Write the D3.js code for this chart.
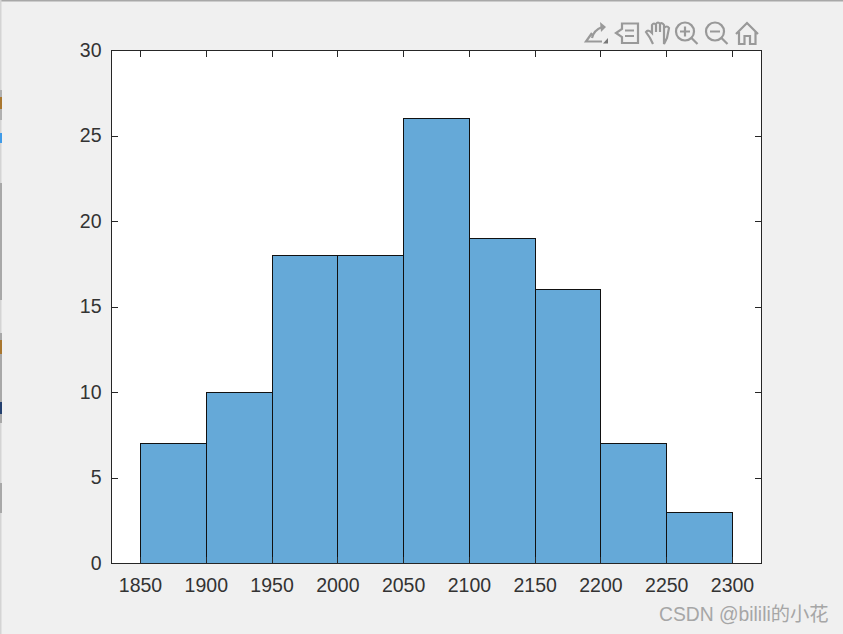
<!DOCTYPE html>
<html>
<head>
<meta charset="utf-8">
<script src="https://cdn.jsdelivr.net/npm/d3@7"></script>
<style>
html, body { margin: 0; padding: 0; background: #f0f0f0; overflow: hidden; }
svg { display: block; }
text { font-family: "Liberation Sans", Arial, sans-serif; }
</style>
</head>
<body>
<svg id="chart" width="843" height="634"></svg>
<script>
// Dades
const binEdges = [1850, 1900, 1950, 2000, 2050, 2100, 2150, 2200, 2250, 2300];
const counts = [7, 10, 18, 18, 26, 19, 16, 7, 3];
const xTicks = [1850, 1900, 1950, 2000, 2050, 2100, 2150, 2200, 2250, 2300];
const yTicks = [0, 5, 10, 15, 20, 25, 30];
const watermark = "CSDN @bilili的小花";

const svg = d3.select("#chart");
const plotLeft = 111.5, plotRight = 761.5, plotTop = 50.5, plotBottom = 563.5;

// Escales
const x = d3.scaleLinear().domain([1850, 2300]).range([140.5, 732.5]);
const y = d3.scaleLinear().domain([0, 30]).range([plotBottom, plotTop]);

// Vora de la finestra
svg.append("rect").attr("width", 843).attr("height", 1.5).attr("fill", "#a8a8a8");
svg.append("rect").attr("width", 1.5).attr("height", 634).attr("fill", "#d4d4d4");
[[90, 120, "#b0b0b0"], [183, 300, "#a8a8a8"], [333, 423, "#a8a8a8"], [483, 513, "#a8a8a8"]].forEach(s => {
    svg.append("rect").attr("x", 0).attr("y", s[0]).attr("width", 2).attr("height", s[1] - s[0]).attr("fill", s[2]);
});
[[97, 12, "#a9772f"], [133, 10, "#3f9be8"], [340, 14, "#a9772f"], [402, 12, "#23406f"]].forEach(s => {
    svg.append("rect").attr("x", 0).attr("y", s[0]).attr("width", 2).attr("height", s[1]).attr("fill", s[2]);
});

// Fons dels eixos
svg.append("rect")
    .attr("x", plotLeft).attr("y", plotTop)
    .attr("width", plotRight - plotLeft).attr("height", plotBottom - plotTop)
    .attr("fill", "#fff");

// Barres
svg.selectAll("rect.bar")
    .data(counts)
    .enter()
    .append("rect")
    .attr("class", "bar")
    .attr("x", (d, i) => x(binEdges[i]))
    .attr("y", d => y(d))
    .attr("width", (d, i) => x(binEdges[i + 1]) - x(binEdges[i]))
    .attr("height", d => plotBottom - y(d))
    .attr("fill", "#65a9d8")
    .attr("stroke", "#111")
    .attr("stroke-width", 1)
    .attr("shape-rendering", "crispEdges");

// Eix X
const axisColor = "#262626";
const axisBottom = d3.axisBottom(x).tickValues(xTicks).tickFormat(d3.format("d")).tickSize(-6.5).tickPadding(15).offset(0);
const gx = svg.append("g").attr("transform", `translate(0,${plotBottom})`).call(axisBottom);
const axisTop = d3.axisTop(x).tickValues(xTicks).tickFormat("").tickSize(-6.5).offset(0);
const gxt = svg.append("g").attr("transform", `translate(0,${plotTop})`).call(axisTop);

// Eix Y
const axisLeft = d3.axisLeft(y).tickValues(yTicks).tickSize(-6.5).tickPadding(10).offset(0);
const gy = svg.append("g").attr("transform", `translate(${plotLeft},0)`).call(axisLeft);
const axisRight = d3.axisRight(y).tickValues(yTicks).tickFormat("").tickSize(-6.5).offset(0);
const gyr = svg.append("g").attr("transform", `translate(${plotRight},0)`).call(axisRight);

[gx, gxt, gy, gyr].forEach(g => {
    g.select(".domain").remove();
    g.selectAll("line").attr("stroke", axisColor).attr("shape-rendering", "crispEdges");
    g.selectAll("text").attr("fill", "#333").attr("font-size", 19.5)
        .style("font-family", '"Liberation Sans", Arial, sans-serif');
});

// Caixa
svg.append("rect")
    .attr("x", plotLeft).attr("y", plotTop)
    .attr("width", plotRight - plotLeft).attr("height", plotBottom - plotTop)
    .attr("fill", "none")
    .attr("stroke", axisColor)
    .attr("stroke-width", 1)
    .attr("shape-rendering", "crispEdges");

// Icones de la barra d'eines
const icons = svg.append("g")
    .attr("fill", "none")
    .attr("stroke", "#999")
    .attr("stroke-width", 2.2);

// exportar
icons.append("path").attr("d", "M592 33 L586 41.5 L602 41.5 M592 38 Q594 30 602 27");
icons.append("path").attr("d", "M600 22 L606 27 L601 32 Z").attr("fill", "#999").attr("stroke", "none");
icons.append("path").attr("d", "M603 43.5 L608 38 L608 43.5 Z").attr("fill", "#777").attr("stroke", "none");
// dades
icons.append("path").attr("d", "M622 23.5 L638 23.5 L638 43 L622 43 L622 37 L616 33 L622 29 Z");
icons.append("path").attr("d", "M625 30.5 L634 30.5 M625 36 L634 36");
// ma
icons.append("path").attr("d", "M653 44 L650 38 L646 32 Q648 29 652 33 L652 25 Q654 22 656 25 L656 32 M656 24 Q658 21 660 24 L660 32 M660 24 Q662 22 664 25 L664 33 M664 28 Q667 25 669 28 L667 38 L664 44 Z");
// zoom +
icons.append("circle").attr("cx", 685).attr("cy", 31.5).attr("r", 9);
icons.append("path").attr("d", "M680 31.5 L690 31.5 M685 26.5 L685 36.5 M691.5 38 L697.5 44");
// zoom -
icons.append("circle").attr("cx", 715).attr("cy", 31.5).attr("r", 9);
icons.append("path").attr("d", "M710 31.5 L720 31.5 M721.5 38 L727.5 44");
// casa
icons.append("path").attr("d", "M736 34 L747 23 L758 34 M739 32 L739 44 L744.5 44 L744.5 36 L750 36 L750 44 L755.5 44 L755.5 32");

// Marca d'aigua
svg.append("text")
    .attr("x", 659).attr("y", 621)
    .attr("font-size", 19.3)
    .attr("fill", "#a6a6a6")
    .style("font-family", '"Liberation Sans", "Noto Sans CJK SC", sans-serif')
    .text(watermark);
</script>
</body>
</html>
